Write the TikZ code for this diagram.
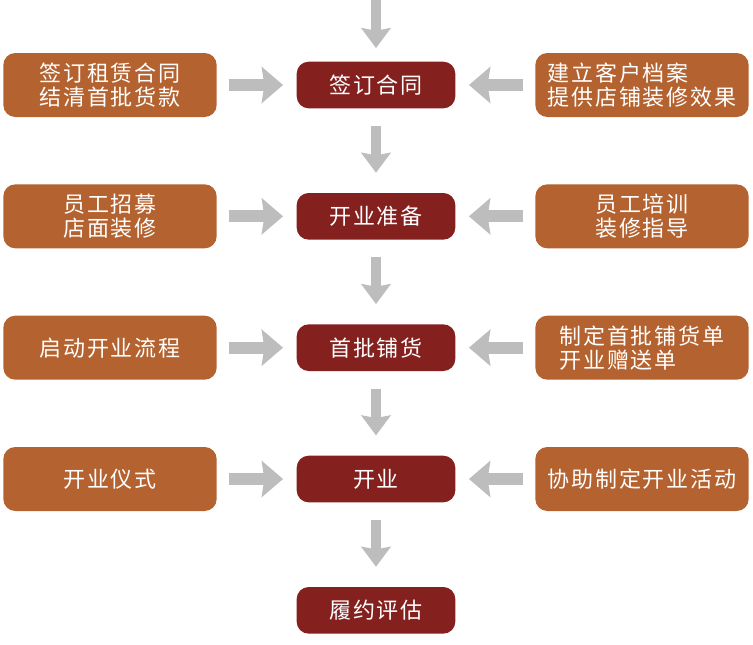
\documentclass[tikz,border=0pt]{standalone}
\usepackage{fontspec}
\newfontfamily\cjk[LetterSpace=8]{Noto Sans CJK SC}
\usepackage{tikz}
\usetikzlibrary{positioning, arrows.meta}
\definecolor{rojo}{HTML}{84211F}
\definecolor{naranja}{HTML}{B4622F}
\definecolor{gris}{HTML}{BDBDBD}
\tikzset{
	node distance=98.5pt, % Distancia entre pasos
	paso/.style={rectangle, rounded corners=9pt, fill=rojo, text=white, minimum width=119pt, minimum height=35pt, font=\cjk\fontsize{16.5}{18}\selectfont}, % Pasos centrales
	lado/.style={rectangle, rounded corners=9pt, fill=naranja, text=white, minimum width=160pt, minimum height=48pt, align=left, font=\cjk\fontsize{16.5}{18}\selectfont}, % Cajas laterales
	bajar/.style={draw=gris, line width=7.5pt, -{Stealth[width=22pt, length=15pt, inset=2pt]}, shorten <=13pt, shorten >=15pt}, % Flechas verticales
	entrar/.style={draw=gris, line width=9pt, -{Stealth[width=27pt, length=16pt, inset=2pt]}, shorten <=9pt, shorten >=10pt} % Flechas horizontales
}

\begin{document}
\begin{tikzpicture}
	\useasboundingbox (0,0) rectangle (564.75pt,-483pt);
	\node[paso] (p1) at (282pt,-63.75pt) {签订合同};
	\node[paso, below of=p1] (p2) {开业准备};
	\node[paso, below of=p2] (p3) {首批铺货};
	\node[paso, below of=p3] (p4) {开业};
	\node[paso, below of=p4] (p5) {履约评估};
	\node[lado, left of=p1, node distance=199.5pt] (l1) {签订租赁合同\\结清首批货款};
	\node[lado, left of=p2, node distance=199.5pt] (l2) {员工招募\\店面装修};
	\node[lado, left of=p3, node distance=199.5pt] (l3) {启动开业流程};
	\node[lado, left of=p4, node distance=199.5pt] (l4) {开业仪式};
	\node[lado, right of=p1, node distance=199.5pt] (r1) {建立客户档案\\提供店铺装修效果};
	\node[lado, right of=p2, node distance=199.5pt] (r2) {员工培训\\装修指导};
	\node[lado, right of=p3, node distance=199.5pt] (r3) {制定首批铺货单\\开业赠送单};
	\node[lado, right of=p4, node distance=199.5pt] (r4) {协助制定开业活动};
	\coordinate[above of=p1, node distance=63.75pt] (inicio);
	\draw	(inicio) edge[bajar, shorten <=0pt, shorten >=10pt] (p1)
			(p1) edge[bajar] (p2)
			(p2) edge[bajar] (p3)
			(p3) edge[bajar] (p4)
			(p4) edge[bajar] (p5)
			(l1) edge[entrar] (p1)
			(l2) edge[entrar] (p2)
			(l3) edge[entrar] (p3)
			(l4) edge[entrar] (p4)
			(r1) edge[entrar] (p1)
			(r2) edge[entrar] (p2)
			(r3) edge[entrar] (p3)
			(r4) edge[entrar] (p4);
\end{tikzpicture}
\end{document}
